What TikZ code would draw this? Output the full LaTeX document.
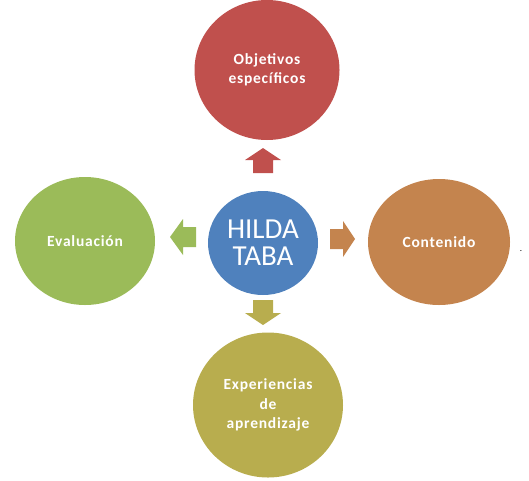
\documentclass[tikz,border=0pt]{standalone}
\usepackage{fontspec}
\setmainfont{Carlito}
\newfontfamily\spacedfont[LetterSpace=5]{Carlito}
\usetikzlibrary{shapes.geometric}
\definecolor{cred}{HTML}{C0504D}
\definecolor{cblue}{HTML}{4F81BD}
\definecolor{corange}{HTML}{C4844E}
\definecolor{cgreen}{HTML}{9BBB59}
\definecolor{colive}{HTML}{B8AD4E}
\tikzset{
  circ/.style={ellipse, inner sep=0pt, text=white, align=center, font=\spacedfont\bfseries\fontsize{15.5}{19.5}\selectfont},
  pics/arrowshape/.style args={#1/#2}{code={
    \fill[#1] (#2,0) -- (0,18) -- (0,10) -- (-13,10) -- (-13,-10) -- (0,-10) -- (0,-18) -- cycle;
  }}
}
\begin{document}
\begin{tikzpicture}[x=1pt,y=-1pt]
\useasboundingbox (0,0) rectangle (529,480);
\node[circ, fill=cred, minimum width=145pt, minimum height=140pt] (obj) at (267,70) {Objetivos\\específicos};
\node[circ, fill=cblue, minimum width=110pt, minimum height=104pt, font=\fontsize{29}{27}\selectfont] (hilda) at (263,243) {HILDA\\TABA};
\node[circ, fill=corange, minimum width=142pt, minimum height=126pt] (cont) at (439,242) {Contenido};
\node[circ, fill=cgreen, minimum width=140pt, minimum height=128pt] (eval) at (85,241) {Evaluación};
\node[circ, fill=colive, minimum width=150pt, minimum height=145pt] (exp) at (268,405) {Experiencias\\de\\aprendizaje};
\node[inner sep=0pt, font=\small] (dot) at (521,251) {.};
\pic[rotate=90] at (263,160) {arrowshape={cred/12}};
\pic[rotate=0] at (343,239) {arrowshape={corange/12}};
\pic[rotate=-90] at (263,313) {arrowshape={colive/12}};
\pic[rotate=180] at (183,237) {arrowshape={cgreen/13}};
\end{tikzpicture}
\end{document}
